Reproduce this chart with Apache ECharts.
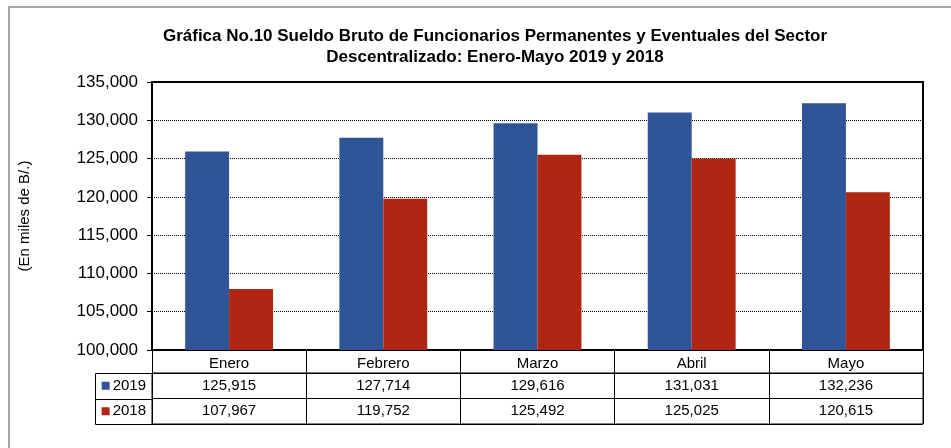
<!DOCTYPE html>
<html>
<head>
<meta charset="utf-8">
<script src="https://cdn.jsdelivr.net/npm/echarts@6/dist/echarts.min.js"></script>
<style>
  html, body { margin: 0; padding: 0; background: #fff; }
  #main { width: 951px; height: 448px; }
</style>
</head>
<body>
<div id="main"></div>
<script>
// datos
var meses = ['Enero', 'Febrero', 'Marzo', 'Abril', 'Mayo'];
var anios = ['2019', '2018'];
var valores2019 = [125915, 127714, 129616, 131031, 132236];
var valores2018 = [107967, 119752, 125492, 125025, 120615];
var colores = ['#2F5597', '#AF2713'];

var fuente = 'Liberation Sans, Arial, sans-serif';
function miles(v) { return v.toLocaleString('en-US'); }

var myChart = echarts.init(document.getElementById('main'));

// celdas de la tabla: [columna, fila, valor]
var celdas = [];
[valores2019, valores2018].forEach(function (serie, fila) {
  serie.forEach(function (v, i) { celdas.push([i, fila, v]); });
});

var option = {
  backgroundColor: '#fff',
  animation: false,
  textStyle: { fontFamily: fuente },
  title: {
    text: 'Gráfica No.10 Sueldo Bruto de Funcionarios Permanentes y Eventuales del Sector\nDescentralizado: Enero-Mayo 2019 y 2018',
    left: 490,
    top: 21,
    textAlign: 'center',
    textStyle: { fontSize: 17, fontWeight: 'bold', color: '#000', lineHeight: 21, fontFamily: fuente }
  },
  graphic: [
    // marco exterior
    { type: 'rect', shape: { x: 9, y: 7, width: 1000, height: 500 }, style: { fill: 'none', stroke: '#a6a6a6', lineWidth: 2 }, z: -1 },
    // columna de leyenda de la tabla
    { type: 'rect', shape: { x: 95.5, y: 373.5, width: 57, height: 51 }, style: { fill: 'none', stroke: '#000', lineWidth: 1 } },
    { type: 'line', shape: { x1: 95.5, y1: 399.5, x2: 152, y2: 399.5 }, style: { stroke: '#000', lineWidth: 1 } }
  ],
  grid: [
    { left: 152, right: 28, top: 82, bottom: 98, show: true, borderColor: '#000', borderWidth: 2 },
    { left: 152, right: 28, top: 373, height: 51, show: true, borderColor: '#000', borderWidth: 1 }
  ],
  xAxis: [
    {
      type: 'category', gridIndex: 0, data: meses,
      axisLine: { lineStyle: { color: '#000', width: 2 } },
      axisTick: { show: true, length: 23, lineStyle: { color: '#000', width: 1 } },
      axisLabel: { color: '#000', fontSize: 15, margin: 6 }
    },
    {
      type: 'category', gridIndex: 1, data: meses,
      axisLine: { show: false }, axisTick: { show: false }, axisLabel: { show: false },
      splitLine: { show: true, lineStyle: { color: '#000', width: 1 } }
    }
  ],
  yAxis: [
    {
      type: 'value', gridIndex: 0, min: 100000, max: 135000, interval: 5000,
      name: '(En miles de B/.)', nameLocation: 'middle', nameGap: 120, nameRotate: 90,
      nameTextStyle: { fontSize: 15, color: '#000' },
      axisLine: { show: true, lineStyle: { color: '#000', width: 2 } },
      axisTick: { show: true, length: 5, lineStyle: { color: '#000' } },
      axisLabel: { color: '#000', fontSize: 17, margin: 14, formatter: miles },
      splitLine: { lineStyle: { color: '#000', type: 'dotted', width: 1 } }
    },
    {
      type: 'category', gridIndex: 1, data: anios, inverse: true,
      axisLine: { show: false }, axisTick: { show: false },
      splitLine: { show: true, lineStyle: { color: '#000', width: 1 } },
      axisLabel: {
        margin: 6, fontSize: 15, color: '#000',
        formatter: function (v, i) { return '{c' + i + '|}{t|' + v + '}'; },
        rich: {
          c0: { backgroundColor: colores[0], width: 8, height: 8, padding: 0 },
          c1: { backgroundColor: colores[1], width: 8, height: 8, padding: 0 },
          t: { fontSize: 15, color: '#000', padding: [0, 0, 0, 3] }
        }
      }
    }
  ],
  series: [
    {
      name: anios[0], type: 'bar', xAxisIndex: 0, yAxisIndex: 0, data: valores2019,
      barCategoryGap: '43%', barGap: 0, itemStyle: { color: colores[0] }
    },
    {
      name: anios[1], type: 'bar', xAxisIndex: 0, yAxisIndex: 0, data: valores2018,
      barCategoryGap: '43%', barGap: 0, itemStyle: { color: colores[1] }
    },
    {
      type: 'custom', xAxisIndex: 1, yAxisIndex: 1, data: celdas,
      renderItem: function (params, api) {
        var p = api.coord([api.value(0), api.value(1)]);
        return {
          type: 'text', x: p[0], y: p[1],
          style: { text: miles(api.value(2)), fontSize: 15, fill: '#000', align: 'center', verticalAlign: 'middle', fontFamily: fuente }
        };
      }
    }
  ]
};

myChart.setOption(option);
</script>
</body>
</html>
